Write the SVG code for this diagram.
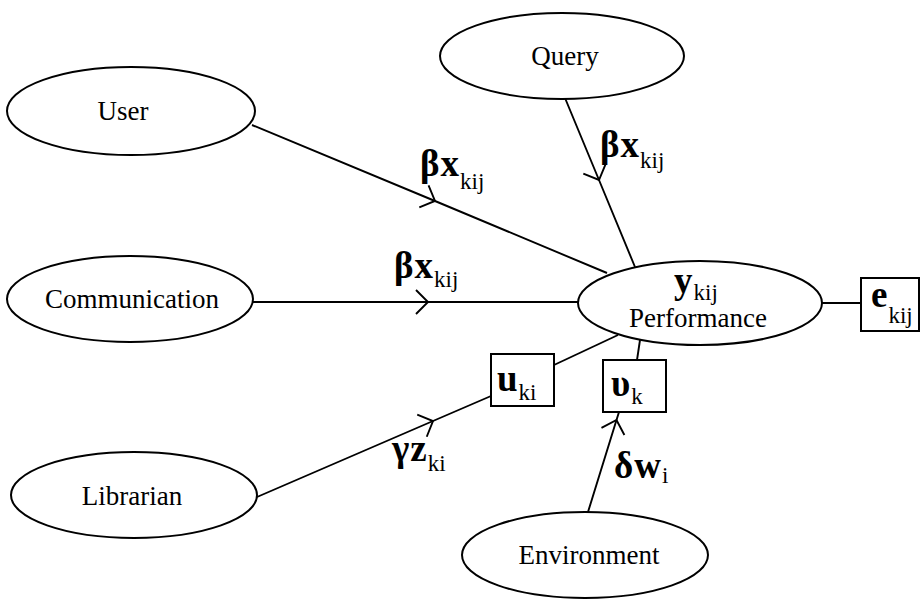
<svg xmlns="http://www.w3.org/2000/svg" width="921" height="599" viewBox="0 0 921 599">
  <style>
    .node { fill: #fff; stroke: #000; stroke-width: 2; }
    .box { fill: #fff; stroke: #000; stroke-width: 2; }
    .edge { fill: none; stroke: #000; stroke-width: 1.9; }
    text { font-family: "Liberation Serif", "Noto Serif", "DejaVu Serif", serif; fill: #000; }
    .label { font-size: 27px; text-anchor: middle; }
    .sym { font-size: 37px; font-weight: bold; letter-spacing: 1px; }
    .sub { font-size: 23px; font-weight: normal; letter-spacing: 0; }
  </style>
  <defs>
    <marker id="tick" markerUnits="userSpaceOnUse" viewBox="-16 -16 32 32" markerWidth="32" markerHeight="32" refX="0" refY="0" orient="auto">
      <path d="M-12,-12 L0,0 L-12,12" fill="none" stroke="#000" stroke-width="1.9"/>
    </marker>
  </defs>

  <rect width="921" height="599" fill="#fff"/>

  <!-- connectors -->
  <g id="connectors">
    <path class="edge" d="M252,125 L435,201 L607,273" marker-mid="url(#tick)"/>
    <path class="edge" d="M565,98 L599,180 L635,267" marker-mid="url(#tick)"/>
    <path class="edge" d="M253,302 L428,302 L578,302" marker-mid="url(#tick)"/>
    <path class="edge" d="M257,497 L433,421 L491,396" marker-mid="url(#tick)"/>
    <path class="edge" d="M554,365 L618,335"/>
    <path class="edge" d="M637,360 L640,340"/>
    <path class="edge" d="M588,512 L616.5,420 L619,412" marker-mid="url(#tick)"/>
    <path class="edge" d="M822,303 L861,303"/>
  </g>

  <!-- path coefficients -->
  <g id="coefficients">
    <text class="sym" x="420" y="176">βx<tspan class="sub" dy="13">kij</tspan></text>
    <text class="sym" x="600" y="157">βx<tspan class="sub" dy="11">kij</tspan></text>
    <text class="sym" x="394" y="278">βx<tspan class="sub" dy="9">kij</tspan></text>
    <text class="sym" x="392" y="461">γz<tspan class="sub" dy="10">ki</tspan></text>
    <text class="sym" x="614" y="478">δw<tspan class="sub" dy="5">i</tspan></text>
  </g>

  <g id="user">
    <ellipse class="node" cx="131" cy="111" rx="124" ry="44"/>
    <text class="label" x="123" y="120">User</text>
  </g>
  <g id="query">
    <ellipse class="node" cx="562" cy="56" rx="122" ry="43"/>
    <text class="label" x="565" y="65">Query</text>
  </g>
  <g id="communication">
    <ellipse class="node" cx="130" cy="299" rx="123" ry="43"/>
    <text class="label" x="132" y="308">Communication</text>
  </g>
  <g id="librarian">
    <ellipse class="node" cx="134" cy="495" rx="123" ry="43"/>
    <text class="label" x="132" y="505">Librarian</text>
  </g>
  <g id="environment">
    <ellipse class="node" cx="585" cy="555" rx="123" ry="43"/>
    <text class="label" x="589" y="564">Environment</text>
  </g>
  <g id="performance">
    <ellipse class="node" cx="700" cy="303" rx="122" ry="42"/>
    <text class="sym" x="674" y="293">y<tspan class="sub" dy="7">kij</tspan></text>
    <text class="label" x="698" y="327" font-size="29">Performance</text>
  </g>
  <g id="error">
    <rect class="box" x="861" y="278" width="58" height="53"/>
    <text class="sym" x="871" y="307">e<tspan class="sub" dy="16">kij</tspan></text>
  </g>
  <g id="u-ki">
    <rect class="box" x="491" y="354" width="63" height="52"/>
    <text class="sym" x="497" y="391">u<tspan class="sub" dy="9">ki</tspan></text>
  </g>
  <g id="upsilon-k">
    <rect class="box" x="603" y="360" width="63" height="52"/>
    <text class="sym" x="611" y="396">υ<tspan class="sub" dy="8">k</tspan></text>
  </g>
</svg>
